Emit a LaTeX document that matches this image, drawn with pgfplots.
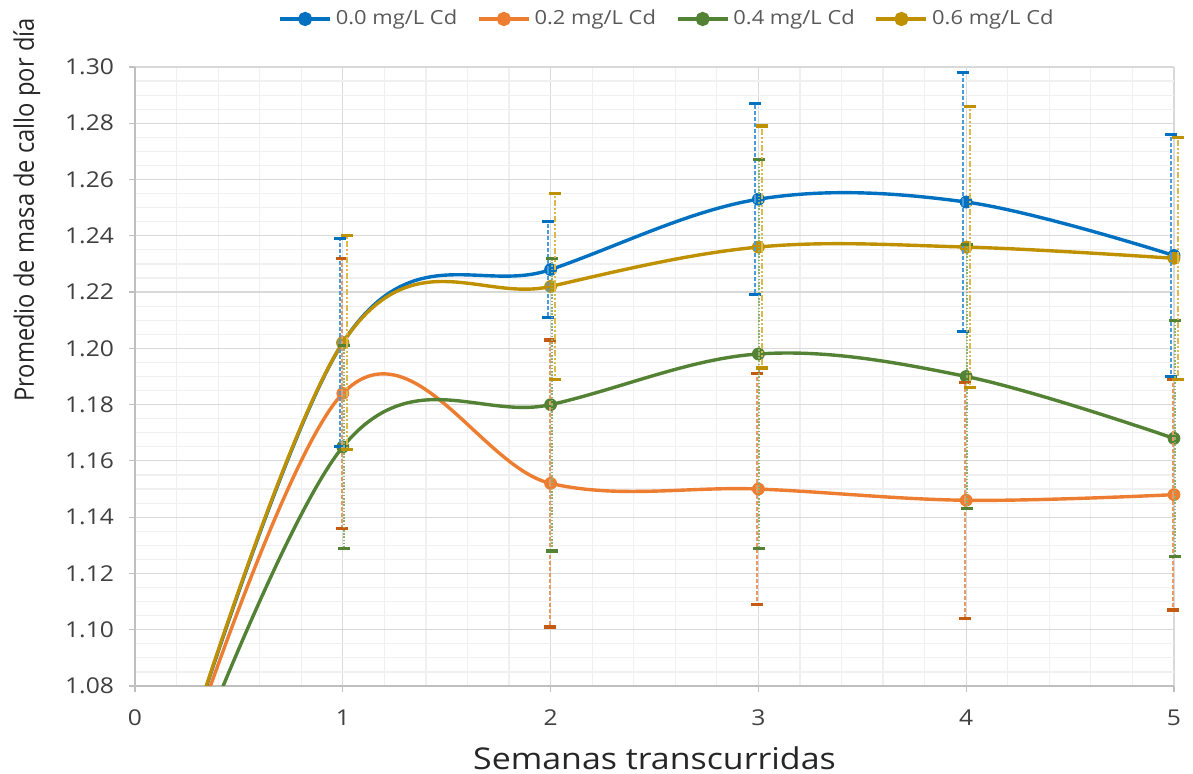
\documentclass[border=0pt]{standalone}
\usepackage{fontspec}
\setmainfont{Open Sans}[FakeStretch=1.13]
\newfontfamily\vfont{Open Sans}[FakeStretch=0.885]
\usepackage{pgfplots}
\pgfplotsset{compat=1.18}
\definecolor{c0}{HTML}{0070C0}
\definecolor{c1}{HTML}{ED7D31}
\definecolor{c2}{HTML}{548235}
\definecolor{c3}{HTML}{BF9000}
\definecolor{e0}{HTML}{4A9BD8}
\definecolor{e1}{HTML}{E59A68}
\definecolor{e2}{HTML}{8DB36E}
\definecolor{e3}{HTML}{DDB84A}
\definecolor{k1}{HTML}{C55A11}
\definecolor{gmaj}{HTML}{D9D9D9}
\definecolor{gmin}{HTML}{F0F0F0}
\definecolor{axc}{HTML}{BFBFBF}
\definecolor{tickc}{HTML}{404040}
\definecolor{labc}{HTML}{262626}
\definecolor{legc}{HTML}{595959}
\pgfplotsset{
  common/.style={at={(0,0)}, anchor=south west, scale only axis, width=519.5pt, height=309.5pt,
    xmin=0, xmax=5, ymin=1.08, ymax=1.30},
}
\begin{document}
\begin{tikzpicture}[x=1pt,y=1pt]
\path[use as bounding box] (-67.5,-44) rectangle (529,343);
\begin{axis}[common,
  xtick={0,1,2,3,4,5},
  ytick={1.08,1.10,1.12,1.14,1.16,1.18,1.20,1.22,1.24,1.26,1.28,1.30},
  minor x tick num=4, minor y tick num=3,
  grid=both,
  major grid style={draw=gmaj, line width=0.6pt},
  minor grid style={draw=gmin, line width=0.6pt},
  axis x line=bottom, axis y line=left,
  axis line style={draw=axc, line width=0.6pt, -},
  tick align=outside, major tick length=3pt, minor tick length=0pt,
  major tick style={draw=axc, line width=0.6pt},
  /pgf/number format/assume math mode=true,
  ticklabel style={font=\fontsize{10.9}{12}\selectfont, text=tickc},
  yticklabel style={/pgf/number format/.cd, fixed, fixed zerofill, precision=2, /tikz/.cd, xshift=-4pt},
  xticklabel style={yshift=-5.5pt},
  xlabel={Semanas transcurridas},
  ylabel={Promedio de masa de callo por día},
  xlabel style={font=\fontsize{15}{18}\selectfont, text=labc, at={(axis description cs:0.5,-0.1163)}, anchor=center},
  ylabel style={font=\vfont\fontsize{13.4}{16}\selectfont, text=labc, at={(axis description cs:-0.104,0.769)}, anchor=center},
  legend columns=4,
  legend style={at={(axis description cs:0.513,1)}, anchor=center, yshift=24pt, draw=none, fill=none,
    font=\fontsize{9.7}{12}\selectfont, text=legc,
    /tikz/every even column/.append style={column sep=8pt}},
  legend image code/.code={\draw[#1, mark=none] (0pt,0pt) -- (25pt,0pt); \fill[#1, mark=none] (12.5pt,0pt) circle[radius=2.7pt];},
  every axis plot/.append style={line width=1.7pt, smooth, tension=0.6, mark=*, mark size=3pt},
]
\addplot[c0, mark options={solid, fill=c0, draw=c0, line width=0.4pt}, mark indices={1,2,3,4,5}]
  coordinates {(0,1.0) (1,1.202) (2,1.228) (3,1.253) (4,1.252) (5,1.233)};
\addlegendentry{0.0 mg/L Cd}
\addplot[c1, mark options={solid, fill=c1, draw=c1, line width=0.4pt}, mark indices={1,2,3,4,5}]
  coordinates {(0,1.0) (1,1.184) (2,1.152) (3,1.150) (4,1.146) (5,1.148)};
\addlegendentry{0.2 mg/L Cd}
\addplot[c2, mark options={solid, fill=c2, draw=c2, line width=0.4pt}, mark indices={1,2,3,4,5}]
  coordinates {(0,1.0) (1,1.165) (2,1.180) (3,1.198) (4,1.190) (5,1.168)};
\addlegendentry{0.4 mg/L Cd}
\addplot[c3, mark options={solid, fill=c3, draw=c3, line width=0.4pt}, mark indices={1,2,3,4,5}]
  coordinates {(0,1.0) (1,1.202) (2,1.222) (3,1.236) (4,1.236) (5,1.232)};
\addlegendentry{0.6 mg/L Cd}
\end{axis}
\begin{axis}[common, hide axis, clip=false, no markers]
\addplot[forget plot, draw=none, no markers, error bars/.cd, y dir=both, y explicit, error mark=|,
  error bar style={draw=e0, line width=1pt, dash pattern=on 2pt off 1pt, xshift=-1.5pt},
  error mark options={draw=c0, line width=1.6pt, mark size=3pt, solid}] coordinates {
 (1,1.202) +- (0,0.037) (2,1.228) +- (0,0.017) (3,1.253) +- (0,0.034) (4,1.252) +- (0,0.046) (5,1.233) +- (0,0.043)};
\addplot[forget plot, draw=none, no markers, error bars/.cd, y dir=both, y explicit, error mark=|,
  error bar style={draw=e1, line width=1pt, dash pattern=on 2pt off 1pt, xshift=-0.5pt},
  error mark options={draw=k1, line width=1.6pt, mark size=3pt, solid}] coordinates {
 (1,1.184) +- (0,0.048) (2,1.152) +- (0,0.051) (3,1.150) +- (0,0.041) (4,1.146) +- (0,0.042) (5,1.148) +- (0,0.041)};
\addplot[forget plot, draw=none, no markers, error bars/.cd, y dir=both, y explicit, error mark=|,
  error bar style={draw=e2, line width=1pt, dash pattern=on 0.8pt off 0.8pt, xshift=0.5pt},
  error mark options={draw=c2, line width=1.6pt, mark size=3pt, solid}] coordinates {
 (1,1.165) +- (0,0.036) (2,1.180) +- (0,0.052) (3,1.198) +- (0,0.069) (4,1.190) +- (0,0.047) (5,1.168) +- (0,0.042)};
\addplot[forget plot, draw=none, no markers, error bars/.cd, y dir=both, y explicit, error mark=|,
  error bar style={draw=e3, line width=1pt, dash pattern=on 3pt off 1pt on 1pt off 1pt on 1pt off 1pt, xshift=2pt},
  error mark options={draw=c3, line width=1.6pt, mark size=3pt, solid}] coordinates {
 (1,1.202) +- (0,0.038) (2,1.222) +- (0,0.033) (3,1.236) +- (0,0.043) (4,1.236) +- (0,0.050) (5,1.232) +- (0,0.043)};
\end{axis}
\end{tikzpicture}
\end{document}
